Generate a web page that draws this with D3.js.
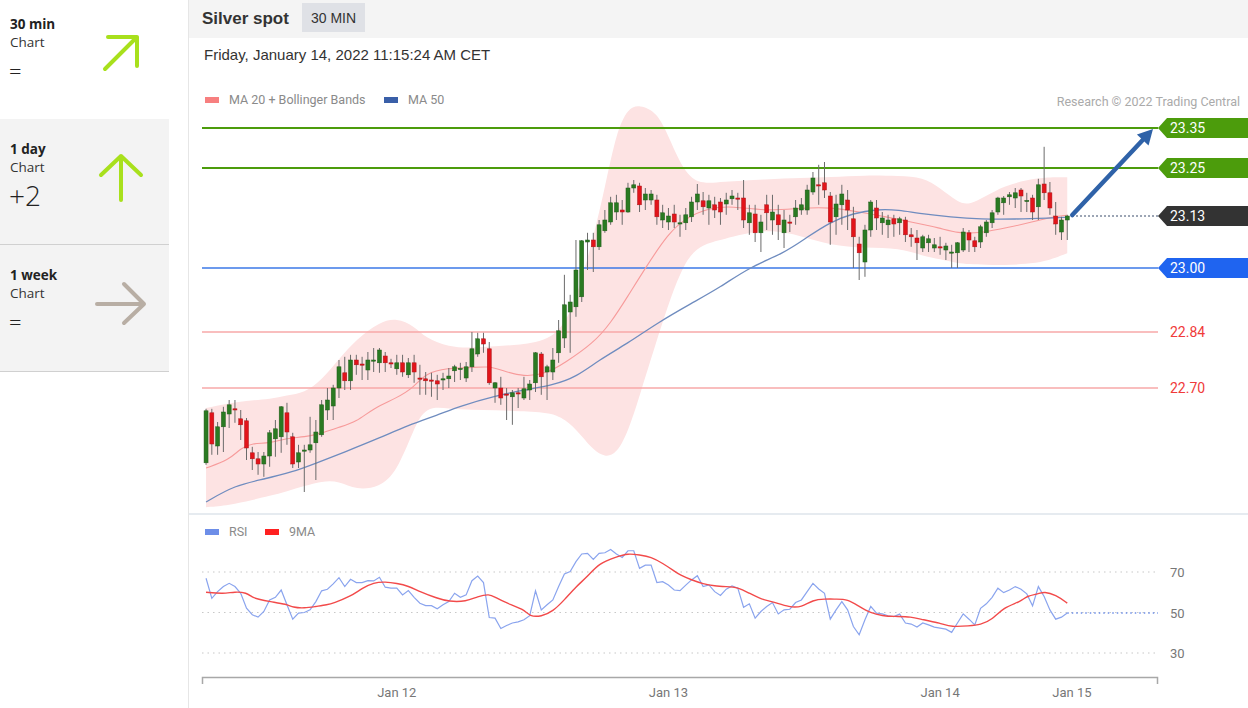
<!DOCTYPE html>
<html><head><meta charset="utf-8">
<script src="https://cdn.jsdelivr.net/npm/d3@7"></script>
<style>
body{margin:0;background:#fff;overflow:hidden}
svg{display:block}
</style></head><body>
<svg id="c" width="1248" height="708"></svg>
<script>
// ---------- DATA ----------
const open = [22.513,22.638,22.555,22.603,22.635,22.648,22.623,22.618,22.538,22.523,22.51,22.53,22.573,22.578,22.638,22.578,22.515,22.543,22.545,22.563,
22.583,22.645,22.655,22.7,22.738,22.718,22.77,22.76,22.745,22.768,22.763,22.78,22.763,22.748,22.763,22.733,22.763,22.725,22.723,22.72,
22.718,22.721,22.723,22.743,22.748,22.725,22.753,22.785,22.823,22.798,22.7,22.7,22.685,22.678,22.688,22.675,22.695,22.713,22.785,22.74,
22.74,22.788,22.825,22.89,22.903,22.928,23.065,23.07,23.053,23.093,23.115,23.14,23.145,23.14,23.2,23.205,23.17,23.17,23.17,23.12,
23.115,23.135,23.11,23.113,23.128,23.165,23.168,23.15,23.158,23.165,23.16,23.173,23.175,23.175,23.113,23.135,23.088,23.158,23.12,23.133,
23.088,23.115,23.128,23.145,23.145,23.19,23.208,23.213,23.18,23.128,23.158,23.17,23.123,23.06,23.015,23.095,23.15,23.113,23.108,23.123,
23.113,23.12,23.083,23.075,23.05,23.063,23.05,23.053,23.045,23.039,23.038,23.045,23.088,23.068,23.065,23.088,23.113,23.14,23.163,23.178,
23.175,23.195,23.168,23.175,23.153,23.21,23.188,23.13,23.09,23.12];
const high = [22.648,22.648,22.615,22.653,22.67,22.67,22.645,22.625,22.553,22.54,22.54,22.595,22.62,22.655,22.663,22.588,22.558,22.558,22.628,22.62,
22.67,22.7,22.708,22.77,22.778,22.783,22.783,22.778,22.79,22.8,22.8,22.79,22.773,22.783,22.783,22.775,22.783,22.758,22.74,22.738,
22.733,22.738,22.75,22.758,22.763,22.765,22.84,22.838,22.838,22.815,22.715,22.728,22.7,22.695,22.7,22.728,22.72,22.79,22.79,22.758,
22.8,22.87,22.983,22.933,23.07,23.07,23.088,23.088,23.12,23.145,23.178,23.183,23.17,23.213,23.22,23.213,23.2,23.195,23.183,23.158,
23.15,23.158,23.133,23.15,23.178,23.21,23.19,23.183,23.178,23.175,23.188,23.195,23.188,23.22,23.158,23.158,23.133,23.183,23.183,23.158,
23.145,23.133,23.17,23.175,23.208,23.24,23.258,23.265,23.19,23.183,23.208,23.195,23.153,23.078,23.108,23.17,23.17,23.14,23.133,23.133,
23.128,23.128,23.1,23.095,23.083,23.083,23.075,23.078,23.063,23.058,23.065,23.1,23.095,23.078,23.108,23.12,23.145,23.178,23.18,23.19,
23.2,23.2,23.188,23.183,23.223,23.303,23.215,23.165,23.128,23.133];
const low = [22.508,22.533,22.533,22.54,22.6,22.613,22.57,22.52,22.495,22.483,22.478,22.503,22.528,22.538,22.558,22.5,22.5,22.44,22.538,22.47,
22.578,22.62,22.62,22.675,22.695,22.695,22.733,22.72,22.72,22.74,22.738,22.74,22.75,22.733,22.728,22.725,22.713,22.683,22.683,22.678,
22.67,22.695,22.7,22.715,22.72,22.715,22.74,22.778,22.788,22.708,22.663,22.658,22.62,22.608,22.65,22.67,22.67,22.69,22.683,22.67,
22.72,22.763,22.8,22.788,22.878,22.915,22.995,22.99,23.045,23.088,23.108,23.12,23.108,23.138,23.188,23.14,23.145,23.158,23.108,23.1,
23.095,23.1,23.078,23.095,23.115,23.145,23.133,23.108,23.125,23.108,23.133,23.158,23.145,23.1,23.083,23.065,23.04,23.095,23.083,23.07,
23.05,23.09,23.108,23.133,23.133,23.183,23.158,23.175,23.058,23.083,23.108,23.095,23.0,22.97,22.978,23.078,23.095,23.083,23.075,23.078,
23.083,23.065,23.053,23.02,23.04,23.04,23.04,23.033,23.02,23.0,23.0,23.04,23.04,23.04,23.05,23.078,23.1,23.133,23.133,23.158,
23.15,23.14,23.14,23.12,23.12,23.17,23.133,23.083,23.07,23.07];
const close = [22.643,22.56,22.603,22.64,22.658,22.645,22.608,22.55,22.523,22.51,22.53,22.588,22.598,22.653,22.59,22.51,22.538,22.545,22.558,22.59,
22.658,22.67,22.7,22.753,22.718,22.77,22.758,22.759,22.77,22.77,22.795,22.763,22.76,22.763,22.74,22.763,22.74,22.723,22.718,22.718,
22.71,22.723,22.73,22.753,22.749,22.753,22.798,22.823,22.81,22.713,22.713,22.675,22.684,22.688,22.686,22.698,22.71,22.788,22.728,22.753,
22.77,22.843,22.908,22.915,22.995,23.068,23.07,23.053,23.108,23.12,23.163,23.163,23.14,23.2,23.208,23.158,23.185,23.185,23.128,23.138,
23.13,23.115,23.113,23.133,23.165,23.185,23.153,23.168,23.145,23.14,23.17,23.18,23.174,23.12,23.138,23.088,23.115,23.138,23.14,23.108,
23.12,23.114,23.15,23.158,23.195,23.225,23.206,23.195,23.115,23.16,23.185,23.145,23.078,23.038,23.095,23.165,23.125,23.125,23.12,23.11,
23.123,23.083,23.078,23.063,23.078,23.073,23.058,23.051,23.055,23.04,23.063,23.09,23.07,23.053,23.103,23.115,23.138,23.175,23.175,23.183,
23.188,23.18,23.169,23.14,23.208,23.188,23.15,23.11,23.12,23.13];

const ma20Idx = [0,4,6,8,11,14,17,20,23,26,29,33,36,38,42,45,49,51,55,59,62,67,70,73,76,80,83,87,91,97,103,108,113,118,122,127,130,134,139,143,146,149];
const ma20Val = [22.50,22.52,22.55,22.562,22.562,22.575,22.577,22.587,22.602,22.615,22.65,22.675,22.702,22.738,22.75,22.75,22.755,22.745,22.727,22.737,22.762,22.812,22.862,22.93,23.0,23.087,23.125,23.15,23.155,23.142,23.15,23.152,23.14,23.127,23.115,23.1,23.087,23.087,23.102,23.115,23.127,23.132];

const ma50Idx = [0,5,10,15,19,24,30,35,40,44,50,55,60,64,68,73,78,84,89,94,100,104,108,112,116,120,123,129,134,140,146,149];
const ma50Val = [22.415,22.457,22.472,22.49,22.512,22.54,22.575,22.607,22.632,22.655,22.68,22.695,22.707,22.727,22.77,22.812,22.862,22.912,22.952,23.002,23.037,23.077,23.115,23.137,23.147,23.145,23.137,23.127,23.122,23.122,23.125,23.127];

const bbIdx = [0,4,8,11,14,17,20,23,26,30,33,36,38,42,46,50,54,60,63,65,67,69,71,73,75,78,80,83,86,89,97,103,108,114,120,124,127,130,132,135,138,142,145,149];
const bbUpper = [22.65,22.662,22.67,22.672,22.682,22.687,22.72,22.772,22.822,22.865,22.875,22.855,22.825,22.802,22.8,22.805,22.807,22.82,22.885,22.97,23.077,23.2,23.34,23.4,23.408,23.39,23.33,23.23,23.21,23.215,23.222,23.225,23.227,23.232,23.23,23.227,23.2,23.165,23.157,23.18,23.205,23.22,23.227,23.227];
const bbLower = [22.402,22.407,22.42,22.43,22.442,22.455,22.467,22.468,22.445,22.452,22.49,22.6,22.655,22.648,22.645,22.645,22.642,22.64,22.612,22.58,22.545,22.527,22.535,22.59,22.68,22.82,22.91,23.025,23.06,23.07,23.1,23.08,23.057,23.05,23.05,23.03,23.022,23.012,23.01,23.008,23.007,23.01,23.015,23.037];

const rsi = [66.9,57.0,60.3,62.8,64.4,62.8,59.5,52.1,48.9,47.7,50.5,56.2,57.5,61.1,53.8,46.7,49.7,50.0,51.3,55.4,
60.7,61.5,64.1,67.2,62.8,66.4,64.8,64.8,65.7,65.6,67.4,62.5,62.0,62.0,58.7,60.8,57.5,54.6,53.4,53.4,
51.8,53.8,55.4,59.5,57.5,58.7,65.7,68.0,64.8,47.5,47.2,42.1,43.6,44.8,45.4,46.4,48.4,60.7,51.3,53.8,
56.2,62.8,69.0,70.2,75.1,78.9,79.2,76.2,79.2,79.5,81.1,78.9,77.2,80.5,80.5,71.8,73.4,73.4,64.8,65.2,
63.6,61.1,60.8,63.5,66.1,68.2,62.8,63.6,60.3,58.4,61.5,63.1,62.0,52.6,54.3,47.2,50.5,53.0,54.9,49.3,
51.3,51.6,54.9,56.2,60.3,64.4,61.6,59.5,46.7,51.3,55.4,51.3,43.1,39.0,46.4,53.0,49.7,49.3,48.4,48.0,
49.2,44.8,44.3,42.8,44.8,43.9,42.8,42.3,41.8,40.2,44.8,49.3,46.7,43.9,52.1,54.3,57.5,62.0,59.8,61.1,
62.8,61.5,59.2,53.3,62.8,57.9,51.3,46.7,47.7,49.7];

const rsiMaIdx = [0,3,5,7,8,9,11,14,15,17,19,21,22,25,27,29,31,33,35,37,40,42,45,47,49,50,52,55,56,58,60,62,64,66,68,71,73,75,77,79,81,82,84,86,88,90,92,94,96,98,101,103,105,107,109,111,113,115,117,119,122,124,127,129,132,134,136,138,141,142,144,145,147,149];
const rsiMaVal = [60.0,59.2,60.3,59.8,57.5,56.6,55.4,54.1,52.5,52.1,53.0,53.8,54.6,57.9,62.0,64.8,65.2,64.4,63.1,60.3,57.0,55.4,55.4,57.9,59.2,57.5,54.6,51.6,48.0,48.0,50.5,56.2,62.8,67.7,74.3,77.5,79.2,78.4,77.5,74.3,70.5,68.5,66.1,64.1,63.1,62.8,62.5,59.5,56.6,55.4,52.5,52.6,56.2,56.7,56.6,56.6,53.0,49.7,48.4,48.0,48.0,46.4,44.8,42.8,43.4,43.9,46.4,52.6,55.4,58.2,59.2,60.3,58.7,54.6];

const levelValues = [23.35, 23.25, 23.13, 23.00, 22.84, 22.70];
const levelKinds  = ["res", "res", "last", "sup", "weak", "weak"];
const rsiTicks = [70, 50, 30];
const xTickLabels = ["Jan 12", "Jan 13", "Jan 14", "Jan 15"];
const xTickIdx = [33, 80, 127, 149.8];
const targetPrice = 23.35;

// ---------- SETUP ----------
const svg = d3.select("#c");
const N = close.length;
const x = d3.scaleLinear().domain([-0.7, 164.7]).range([202, 1158]);
const y = d3.scaleLinear().domain([22.70, 23.35]).range([388, 128]);
const yr = d3.scaleLinear().domain([30, 70]).range([653, 572]);
const FONT = "Roboto, 'Liberation Sans', Arial, sans-serif";
const SIDE = "'Open Sans', 'Noto Sans', sans-serif";

// ---------- SIDEBAR ----------
const side = svg.append("g");
side.append("rect").attr("x",0).attr("y",119).attr("width",169).attr("height",252).attr("fill","#f3f3f3");
side.append("line").attr("x1",0).attr("x2",169).attr("y1",244.5).attr("y2",244.5).attr("stroke","#d0d0d0");
side.append("line").attr("x1",0).attr("x2",169).attr("y1",371.5).attr("y2",371.5).attr("stroke","#d0d0d0");
const sideItems = [
  {t:"30 min", y:0, s:"=", big:false},
  {t:"1 day", y:125, s:"+2", big:true},
  {t:"1 week", y:251, s:"=", big:false}
];
sideItems.forEach(d=>{
  side.append("text").attr("x",10).attr("y",d.y+29).text(d.t).attr("font-family",SIDE).attr("font-weight",700).attr("font-size",13.5).attr("fill","#222");
  side.append("text").attr("x",10).attr("y",d.y+47).text("Chart").attr("font-family",SIDE).attr("font-size",13.5).attr("fill","#333");
  side.append("text").attr("x",9).attr("y",d.big? d.y+81 : d.y+79).text(d.s).attr("font-family",SIDE).attr("font-weight",300).attr("font-size",d.big?28:22).attr("fill","#222");
});
const arrowStyle = (p,c)=>p.attr("fill","none").attr("stroke",c).attr("stroke-width",4).attr("stroke-linecap","round").attr("stroke-linejoin","round");
arrowStyle(side.append("path").attr("d","M105,69L137,37M108,37L137,37L137,66"),"#a8e01c");
arrowStyle(side.append("path").attr("d","M121,200L121,156M101,175L121,156L141,175"),"#a8e01c");
arrowStyle(side.append("path").attr("d","M97,304L144,304M124,284L144,304L124,323"),"#b8aea4");

// ---------- CHART FRAME ----------
svg.append("rect").attr("x",188).attr("y",0).attr("width",1060).attr("height",38).attr("fill","#f4f4f4");
svg.append("line").attr("x1",188.5).attr("x2",188.5).attr("y1",0).attr("y2",708).attr("stroke","#e6e6e6");
svg.append("text").attr("x",202).attr("y",24).text("Silver spot").attr("font-family","'Liberation Sans', Arial, sans-serif").attr("font-weight",700).attr("font-size",17).attr("fill","#333");
svg.append("rect").attr("x",302).attr("y",3).attr("width",63).attr("height",29).attr("fill","#dfe1e6");
svg.append("text").attr("x",333.5).attr("y",23).attr("text-anchor","middle").text("30 MIN").attr("font-family","'Liberation Sans', Arial, sans-serif").attr("font-size",14).attr("fill","#333");
svg.append("text").attr("x",204).attr("y",60).text("Friday, January 14, 2022 11:15:24 AM CET").attr("font-family","'Liberation Sans', Arial, sans-serif").attr("font-size",15).attr("fill","#333");

// legend
function legendItem(xp, yp, col, label){
  svg.append("rect").attr("x",xp).attr("y",yp-4).attr("width",14).attr("height",6).attr("fill",col);
  svg.append("text").attr("x",xp+24).attr("y",yp+3).text(label).attr("font-family",FONT).attr("font-size",12.5).attr("fill","#8a8a8a");
}
legendItem(205,101,"#f77f7f","MA 20 + Bollinger Bands");
legendItem(384,101,"#3a5fa8","MA 50");
svg.append("text").attr("x",1240).attr("y",106).attr("text-anchor","end").text("Research © 2022 Trading Central").attr("font-family",FONT).attr("font-size",12.5).attr("fill","#aaa");

svg.append("line").attr("x1",189).attr("x2",1248).attr("y1",514).attr("y2",514).attr("stroke","#e6ebf0").attr("stroke-width",2);

// ---------- MAIN PANEL ----------
const g = svg.append("g");
const bandData = bbIdx.map((d,i)=>({i:d,u:bbUpper[i],l:bbLower[i]}));
g.append("path").datum(bandData)
  .attr("d", d3.area().x(d=>x(d.i)).y0(d=>y(d.l)).y1(d=>y(d.u)).curve(d3.curveBasis))
  .attr("fill","#fde3e3");

// level lines
levelValues.forEach((v,k)=>{
  const kind = levelKinds[k];
  if(kind==="last") return;
  const col = kind==="res" ? "#4c9c0c" : kind==="sup" ? "#3b78e7" : "#f7a8a8";
  g.append("line").attr("x1",202).attr("x2",1158).attr("y1",y(v)).attr("y2",y(v))
    .attr("stroke",col).attr("stroke-width", kind==="res"?2:1.6);
});

// MA lines
g.append("path").datum(ma20Idx.map((d,i)=>[d,ma20Val[i]]))
  .attr("d", d3.line().x(d=>x(d[0])).y(d=>y(d[1])).curve(d3.curveBasis))
  .attr("fill","none").attr("stroke","#f79b9b").attr("stroke-width",1.1);
g.append("path").datum(ma50Idx.map((d,i)=>[d,ma50Val[i]]))
  .attr("d", d3.line().x(d=>x(d[0])).y(d=>y(d[1])).curve(d3.curveBasis))
  .attr("fill","none").attr("stroke","#6f8cbf").attr("stroke-width",1.3);

// candles
const candles = d3.range(N).map(i=>({i,o:open[i],h:high[i],l:low[i],c:close[i]}));
const cg = g.append("g");
cg.selectAll("line.w").data(candles).join("line")
  .attr("x1",d=>x(d.i)).attr("x2",d=>x(d.i)).attr("y1",d=>y(d.h)).attr("y2",d=>y(d.l))
  .attr("stroke","#6b6b6b").attr("stroke-width",1);
cg.selectAll("rect").data(candles).join("rect")
  .attr("x",d=>x(d.i)-2).attr("width",4)
  .attr("y",d=>y(Math.max(d.o,d.c)))
  .attr("height",d=>Math.max(1.2, Math.abs(y(d.o)-y(d.c))))
  .attr("fill",d=>d.c>=d.o?"#2a7a22":"#e2141a")
  .attr("stroke",d=>d.c>=d.o?"#1f5c19":"#a8151a").attr("stroke-width",0.5);

// last price dotted line + arrow
const lastV = close[N-1];
g.append("line").attr("x1",x(N-1)+5).attr("x2",1158).attr("y1",y(lastV)).attr("y2",y(lastV))
  .attr("stroke","#4f5f7a").attr("stroke-width",1.5).attr("stroke-dasharray","1.5,2.5");
(function(){
  const x0 = x(N-1)+5, y0 = y(lastV)-1, x1 = 1153, y1 = y(targetPrice)+1;
  const ang = Math.atan2(y1-y0, x1-x0);
  const hl = 15, hw = 8;
  const bx = x1 - hl*Math.cos(ang), by = y1 - hl*Math.sin(ang);
  g.append("line").attr("x1",x0).attr("y1",y0).attr("x2",bx).attr("y2",by)
    .attr("stroke","#2f62a8").attr("stroke-width",4.5).attr("stroke-linecap","round");
  const px = -Math.sin(ang), py = Math.cos(ang);
  g.append("path").attr("d",`M${x1},${y1}L${bx+px*hw},${by+py*hw}L${bx-px*hw},${by-py*hw}Z`).attr("fill","#2f62a8");
})();

// tags
levelValues.forEach((v,k)=>{
  const kind = levelKinds[k];
  const yy = y(v);
  const label = v.toFixed(2);
  if(kind==="weak"){
    svg.append("text").attr("x",1170).attr("y",yy+5).text(label).attr("font-family",FONT).attr("font-size",14).attr("fill","#f03a3a");
    return;
  }
  const col = kind==="res" ? "#4c9c0c" : kind==="sup" ? "#1f64f0" : "#333333";
  svg.append("path").attr("d",`M1158,${yy}L1167,${yy-10}L1248,${yy-10}L1248,${yy+10}L1167,${yy+10}Z`).attr("fill",col);
  svg.append("text").attr("x",1170).attr("y",yy+5).text(label).attr("font-family",FONT).attr("font-size",14).attr("fill","#fff");
});

// ---------- RSI PANEL ----------
legendItem(205,533,"#6d8ee8","RSI");
legendItem(265,533,"#ff2020","9MA");
rsiTicks.forEach(t=>{
  svg.append("line").attr("x1",202).attr("x2",1158).attr("y1",yr(t)).attr("y2",yr(t))
    .attr("stroke","#c8c8c8").attr("stroke-width",1.2).attr("stroke-dasharray","1.5,4");
  svg.append("text").attr("x",1170).attr("y",yr(t)+5).text(t).attr("font-family",FONT).attr("font-size",13).attr("fill","#777");
});
svg.append("line").attr("x1",x(N-1)).attr("x2",1158).attr("y1",yr(rsi[N-1])).attr("y2",yr(rsi[N-1]))
  .attr("stroke","#6d8ee8").attr("stroke-width",1.5).attr("stroke-dasharray","1.5,3");
svg.append("path").datum(rsi)
  .attr("d", d3.line().x((d,i)=>x(i)).y(d=>yr(d)))
  .attr("fill","none").attr("stroke","#8aa4ee").attr("stroke-width",1.2);
svg.append("path").datum(rsiMaIdx.map((d,i)=>[d,rsiMaVal[i]]))
  .attr("d", d3.line().x(d=>x(d[0])).y(d=>yr(d[1])).curve(d3.curveBasis))
  .attr("fill","none").attr("stroke","#f24a4a").attr("stroke-width",1.4);

// x axis
svg.append("path").attr("d","M202.5,684V677.5H1157.5V684").attr("fill","none").attr("stroke","#a8a8a8").attr("stroke-width",1.5);
xTickLabels.forEach((t,k)=>{
  svg.append("text").attr("x",x(xTickIdx[k])).attr("y",697).attr("text-anchor","middle").text(t)
    .attr("font-family",FONT).attr("font-size",13).attr("fill","#777");
});
</script>
</body></html>
